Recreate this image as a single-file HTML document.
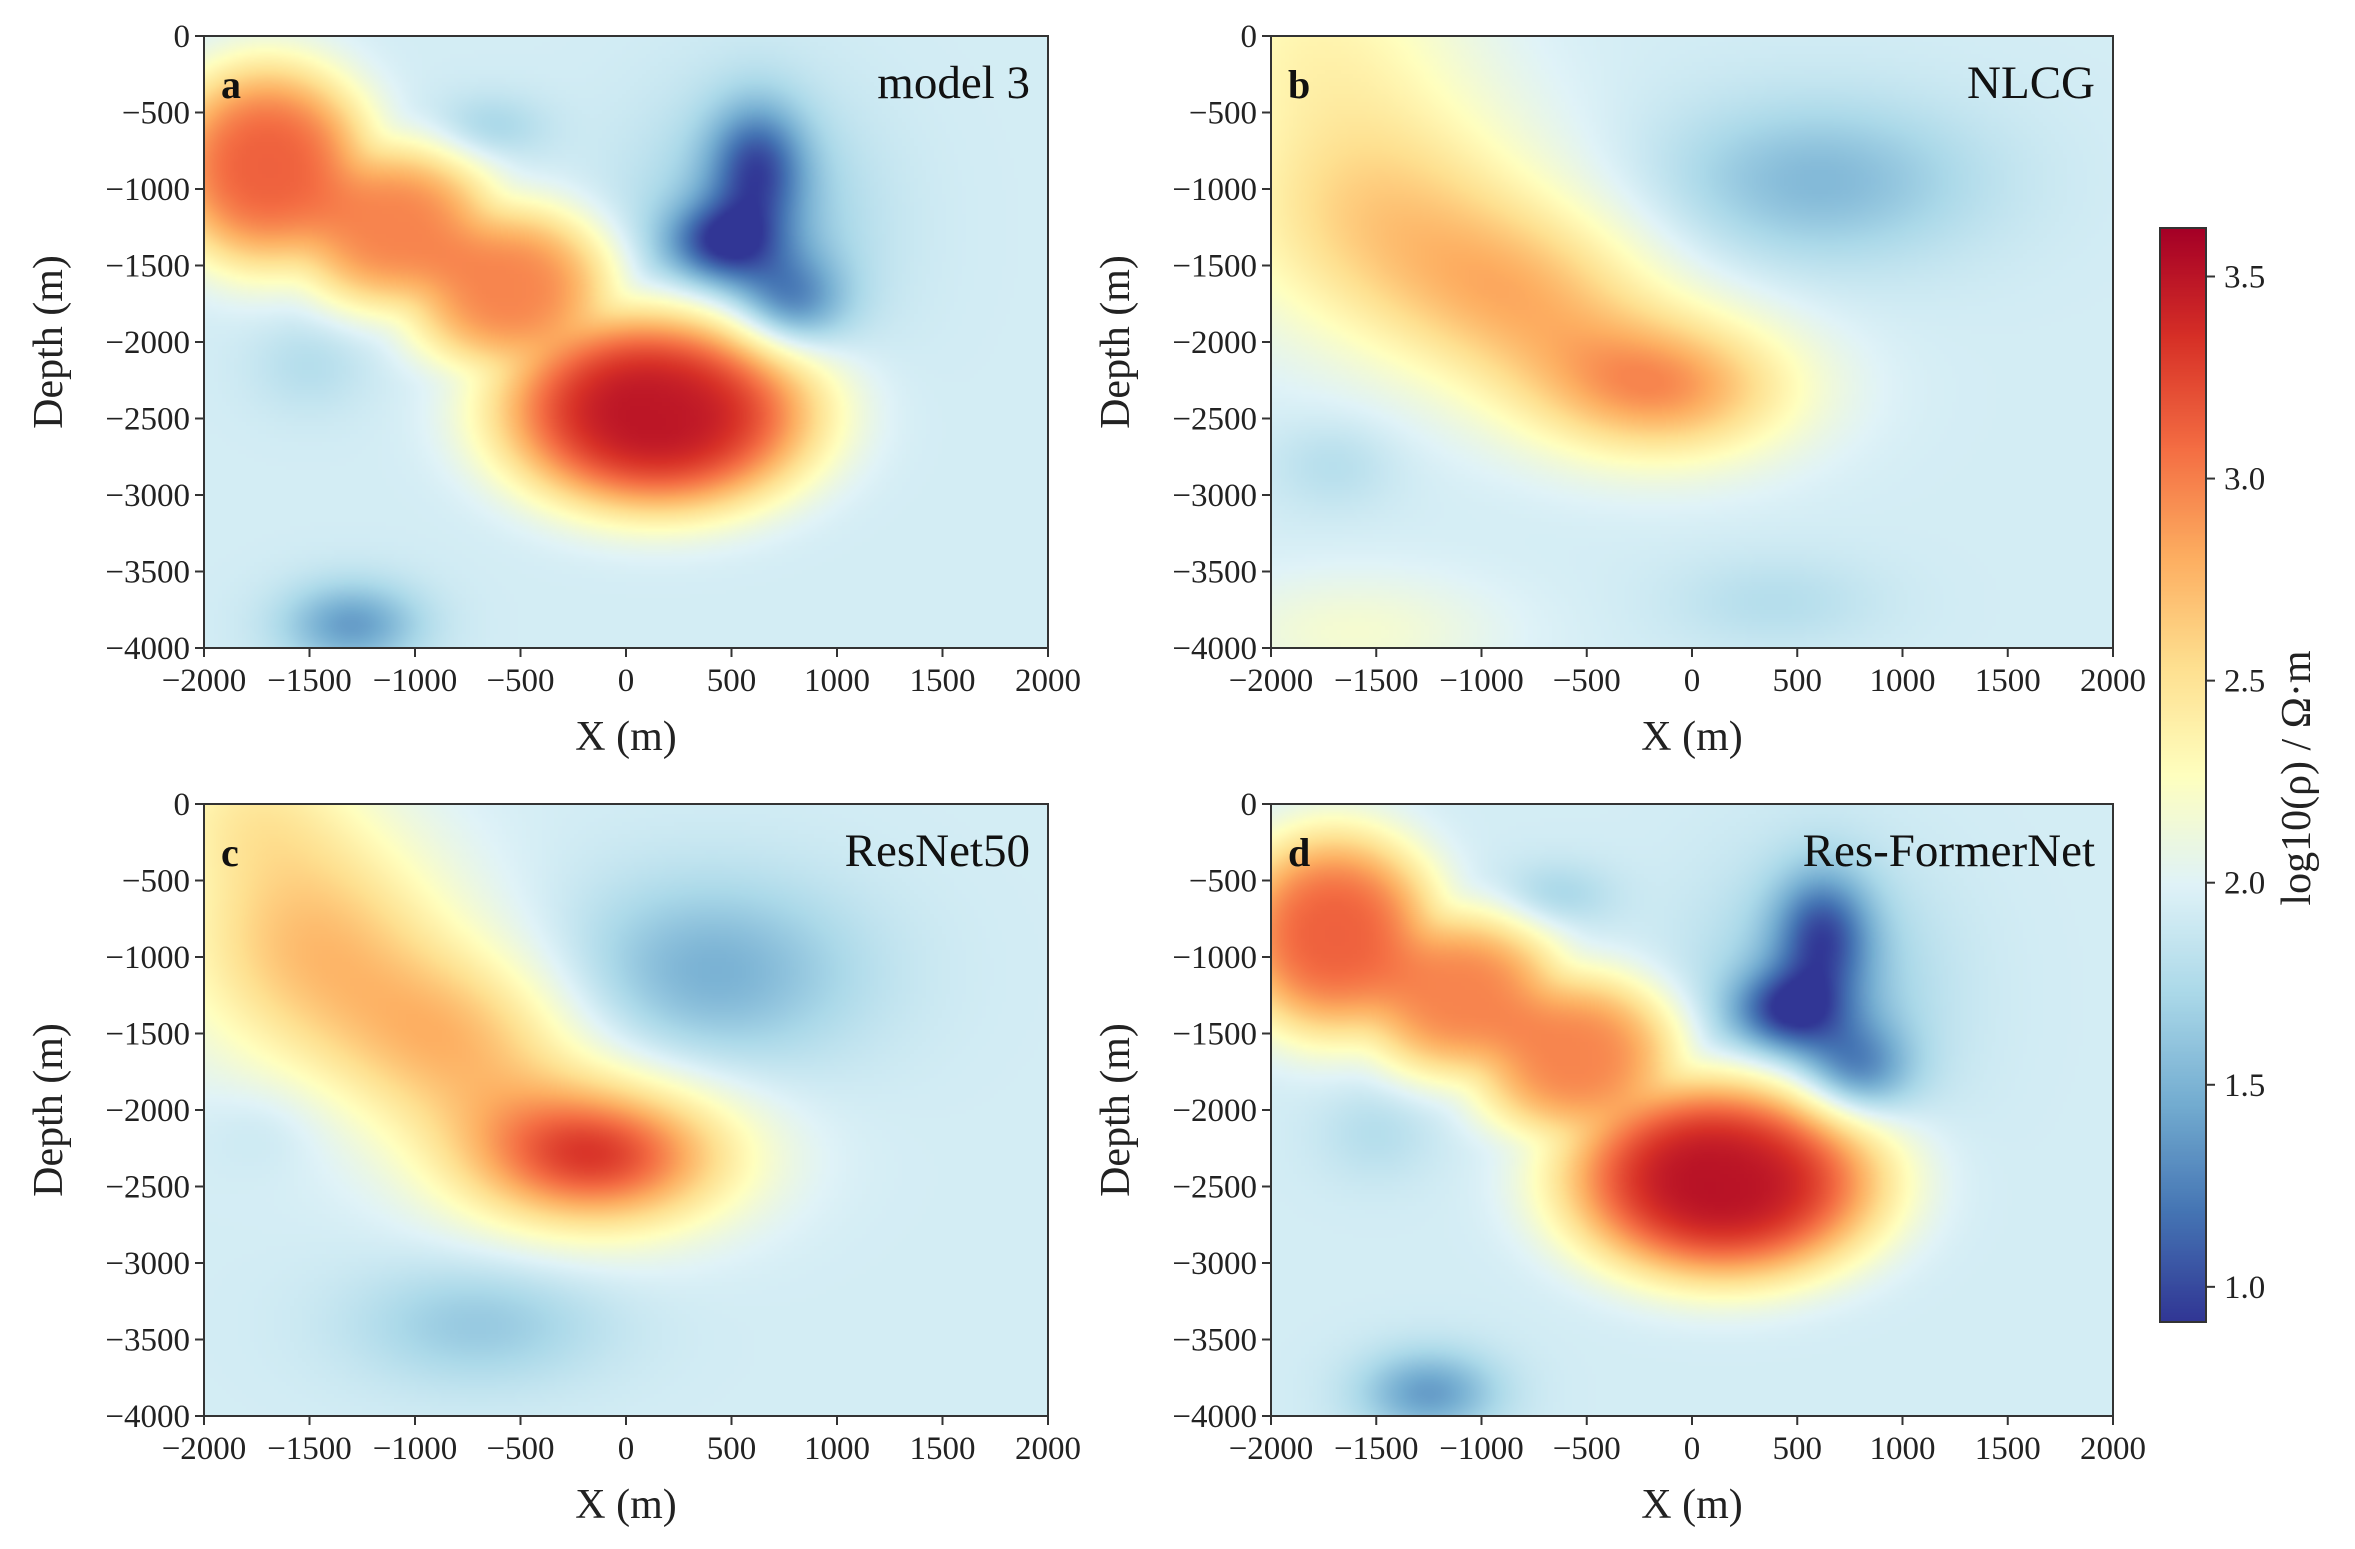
<!DOCTYPE html>
<html><head><meta charset="utf-8">
<style>
body{margin:0;background:#fff;}
#root{position:relative;width:2355px;height:1549px;overflow:hidden;background:#fff;font-family:"Liberation Serif",serif;}
canvas{position:absolute;}
svg{position:absolute;left:0;top:0;}
</style></head>
<body>
<div id="root">
<canvas id="cva" width="211" height="153" style="left:204px;top:36px;width:844px;height:612px"></canvas>
<canvas id="cvb" width="211" height="153" style="left:1271px;top:36px;width:842px;height:612px"></canvas>
<canvas id="cvc" width="211" height="153" style="left:204px;top:804px;width:844px;height:612px"></canvas>
<canvas id="cvd" width="211" height="153" style="left:1271px;top:804px;width:842px;height:612px"></canvas>
<canvas id="cbar" width="1" height="300" style="left:2160px;top:228px;width:46px;height:1094px"></canvas>
<svg id="ov" width="2355" height="1549"></svg>
</div>
<script>
// ---- data ----
const xTicks=[-2000,-1500,-1000,-500,0,500,1000,1500,2000];
const yTicks=[0,-500,-1000,-1500,-2000,-2500,-3000,-3500,-4000];
const cbTicks=[1.0,1.5,2.0,2.5,3.0,3.5];
const cbMin=0.913, cbMax=3.62;
const background=1.93;
const panelLetters=['a','b','c','d'];
const panelTitles=['model 3','NLCG','ResNet50','Res-FormerNet'];
// anomalies: [x, depth, delta log10(rho), radiusX, radiusY]
const posA=[[-1700,-850,1.2,520,700],[-1100,-1250,1.05,520,560],[-550,-1650,1.05,520,560],[150,-2450,1.58,780,680]];
const negA=[[620,-850,-0.7,230,420],[450,-1350,-0.7,260,260],[780,-1750,-0.55,260,320],[600,-1250,-0.35,550,800],[-650,-600,-0.22,280,220],[-1300,-3850,-0.55,330,280],[-1500,-2150,-0.15,280,320]];
const posB=[[-1500,-1150,0.65,750,800],[-800,-1700,0.65,650,600],[-150,-2300,0.95,650,480],[-1800,0,0.35,700,700],[-1600,-3900,0.25,700,400]];
const negB=[[600,-950,-0.4,750,520],[-1700,-2800,-0.15,300,300],[400,-3700,-0.15,500,300]];
const posC=[[-1500,-900,0.75,650,800],[-800,-1550,0.7,600,600],[-150,-2300,1.35,650,480],[-1800,0,0.35,500,500]];
const negC=[[400,-1100,-0.45,700,600],[-700,-3400,-0.3,600,400],[-1700,-2100,-0.1,300,300]];
const posD=[[-1700,-850,1.2,520,700],[-1100,-1250,1.05,520,560],[-550,-1650,1.05,520,560],[150,-2450,1.6,780,680]];
const negD=[[620,-850,-0.7,230,420],[450,-1350,-0.7,260,260],[780,-1750,-0.55,260,320],[600,-1250,-0.35,550,800],[-650,-600,-0.22,280,220],[-1250,-3850,-0.55,330,280],[-1500,-2150,-0.15,280,320]];
const panelPos=[posA,posB,posC,posD];
const panelNeg=[negA,negB,negC,negD];
const panelPow=[1.6,1,1,1.6];
const panelCap=[9,1.05,1.45,9];
// ---- colormap RdYlBu_r ----
const stops=['#313695','#4575b4','#74add1','#abd9e9','#e0f3f8','#ffffbf','#fee090','#fdae61','#f46d43','#d73027','#a50026'].map(h=>[parseInt(h.slice(1,3),16),parseInt(h.slice(3,5),16),parseInt(h.slice(5,7),16)]);
function cmap(v){let t=(v-cbMin)/(cbMax-cbMin);t=Math.max(0,Math.min(1,t))*10;const i=Math.min(9,Math.floor(t)),f=t-i;const a=stops[i],b=stops[i+1];return [a[0]+(b[0]-a[0])*f,a[1]+(b[1]-a[1])*f,a[2]+(b[2]-a[2])*f];}
function field(p,x,y){let acc=0,sum=0,sn=0;const pw=panelPow[p];
 for(const b of panelPos[p]){const r=((x-b[0])/b[3])**2+((y-b[1])/b[4])**2;const v=b[2]*Math.exp(-Math.pow(r,pw));acc+=Math.pow(v,3);sum+=v;}
 for(const b of panelNeg[p]){const r=((x-b[0])/b[3])**2+((y-b[1])/b[4])**2;sn+=b[2]*Math.exp(-r);}
 const pos=pw>1?Math.pow(acc,1/3):Math.min(sum,panelCap[p]);
 return background+pos+sn;}
['cva','cvb','cvc','cvd'].forEach((id,p)=>{const c=document.getElementById(id),ctx=c.getContext('2d');const W=c.width,H=c.height;const img=ctx.createImageData(W,H);
 for(let j=0;j<H;j++)for(let i=0;i<W;i++){const x=-2000+4000*(i+0.5)/W,y=-4000*(j+0.5)/H;const col=cmap(field(p,x,y));const k=(j*W+i)*4;img.data[k]=col[0];img.data[k+1]=col[1];img.data[k+2]=col[2];img.data[k+3]=255;}
 ctx.putImageData(img,0,0);});
(function(){const c=document.getElementById('cbar'),ctx=c.getContext('2d');for(let j=0;j<300;j++){const v=cbMax-(cbMax-cbMin)*(j+0.5)/300;const col=cmap(v);ctx.fillStyle=`rgb(${col[0]|0},${col[1]|0},${col[2]|0})`;ctx.fillRect(0,j,1,1);}})();
// ---- axes ----
const NS='http://www.w3.org/2000/svg',ov=document.getElementById('ov');
function mk(tag,attrs,txt){const e=document.createElementNS(NS,tag);for(const k in attrs)e.setAttribute(k,attrs[k]);if(txt!==undefined)e.textContent=txt;ov.appendChild(e);return e;}
const boxes=[[204,1048,36,648],[1271,2113,36,648],[204,1048,804,1416],[1271,2113,804,1416]];
boxes.forEach((b,p)=>{const [L,R,T,B]=b;
 const sx=v=>L+(v+2000)/4000*(R-L), sy=v=>T+(-v)/4000*(B-T);
 const fr=mk('rect',{x:L,y:T,width:R-L,height:B-T,fill:'none',stroke:'#333',"stroke-width":2});
 
 xTicks.forEach(v=>{mk('line',{x1:sx(v),x2:sx(v),y1:B,y2:B+9,stroke:'#333',"stroke-width":2});
  const t=mk('text',{x:sx(v),y:B+43,"text-anchor":"middle","font-size":33,fill:'#222'},String(v).replace('-','\u2212'));
  });
 yTicks.forEach(v=>{mk('line',{x1:L-9,x2:L,y1:sy(v),y2:sy(v),stroke:'#333',"stroke-width":2});
  const t=mk('text',{x:L-14,y:sy(v)+11,"text-anchor":"end","font-size":33,fill:'#222'},String(v).replace('-','\u2212'));
  });
 const xl=mk('text',{x:(L+R)/2,y:B+102,"text-anchor":"middle","font-size":42,fill:'#222'},'X (m)');
 
 const cy=(T+B)/2;
 const yl=mk('text',{x:L-142,y:cy,"text-anchor":"middle","font-size":42,fill:'#222',transform:`rotate(-90 ${L-142} ${cy})`},'Depth (m)');
 
 const lt=mk('text',{x:L+17,y:T+62,"font-size":40,"font-weight":"bold",fill:'#111'},panelLetters[p]);
 
 const tt=mk('text',{x:R-18,y:T+62,"text-anchor":"end","font-size":47,fill:'#111'},panelTitles[p]);
 
});
// colorbar axis
const cbT=228,cbB=1322,cbL=2160,cbR=2206;
const cbs=v=>cbB-(v-cbMin)/(cbMax-cbMin)*(cbB-cbT);
const cf=mk('rect',{x:cbL,y:cbT,width:cbR-cbL,height:cbB-cbT,fill:'none',stroke:'#333',"stroke-width":2});

cbTicks.forEach(v=>{mk('line',{x1:cbR,x2:cbR+9,y1:cbs(v),y2:cbs(v),stroke:'#333',"stroke-width":2});
 const t=mk('text',{x:cbR+18,y:cbs(v)+11,"font-size":33,fill:'#222'},v.toFixed(1));
 });
const cl=mk('text',{x:2310,y:778,"text-anchor":"middle","font-size":42,fill:'#222',transform:'rotate(-90 2310 778)'},'log10(ρ) / Ω·m');

</script>
</body></html>
